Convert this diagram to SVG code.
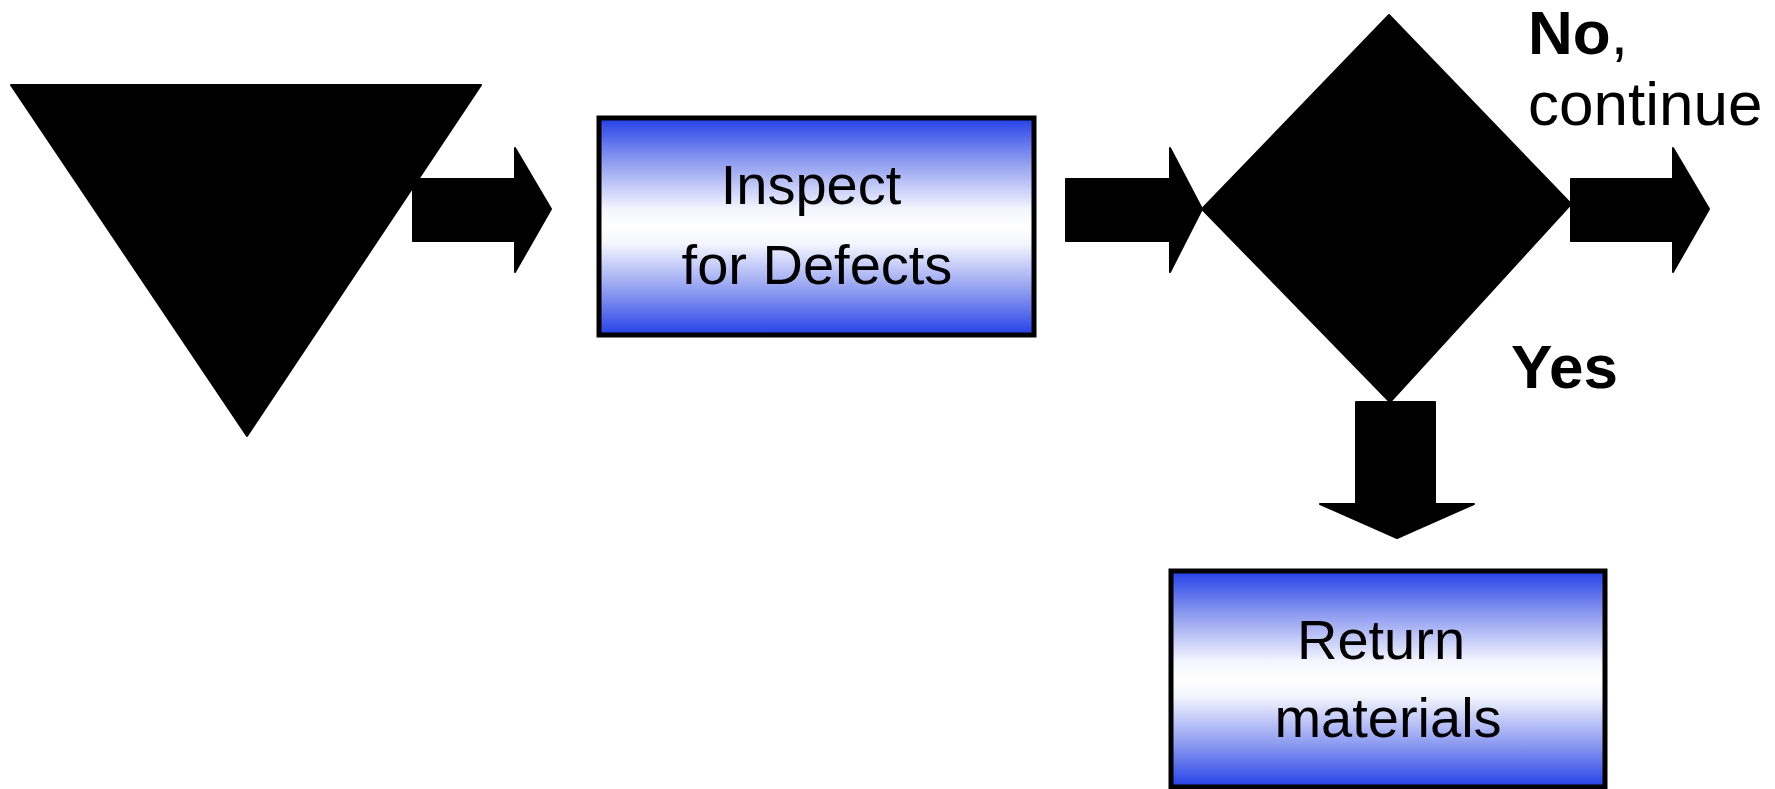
<svg xmlns="http://www.w3.org/2000/svg" width="1775" height="789" viewBox="0 0 1775 789">
<defs>
<linearGradient id="boxfill" x1="0" y1="0" x2="0" y2="1">
<stop offset="0" stop-color="#2440E8"/>
<stop offset="0.2" stop-color="#8D9BF0"/>
<stop offset="0.42" stop-color="#F4F5FE"/>
<stop offset="0.5" stop-color="#FFFFFF"/>
<stop offset="0.58" stop-color="#F4F5FE"/>
<stop offset="0.8" stop-color="#8D9BF0"/>
<stop offset="1" stop-color="#2440E8"/>
</linearGradient>
<style>
.shape{fill:#000;stroke:#000;stroke-width:2;stroke-linejoin:round}
.box{fill:url(#boxfill);stroke:#000;stroke-width:5}
.t{font-family:"Liberation Sans",Arial,sans-serif;fill:#000}
.bt{font-size:56px;text-anchor:middle}
.lab{font-size:62px}
.b{font-weight:bold}
</style>
</defs>
<g id="node-storage">
<polygon class="shape" points="11,85 481,85 247,436"/>
</g>
<g id="connectors">
<polygon class="shape" points="413,179 515,179 515,148 551,209 515,272 515,241 413,241"/>
<polygon class="shape" points="1066,179 1170,179 1170,148 1202,209 1170,272 1170,241 1066,241"/>
<polygon class="shape" points="1571,179 1673,179 1673,148 1709,209 1673,272 1673,241 1571,241"/>
<polygon class="shape" points="1356,402 1435,402 1435,504 1474,504 1397,538 1320,504 1356,504"/>
</g>
<g id="node-inspect">
<rect class="box" x="599" y="118" width="435" height="217"/>
<text class="t bt" x="811" y="204">Inspect</text>
<text class="t bt" x="817" y="284">for Defects</text>
</g>
<g id="node-decision">
<polygon class="shape" points="1389,15 1571,204 1390,402 1202,209"/>
</g>
<g id="node-return">
<rect class="box" x="1171" y="571" width="434" height="216"/>
<text class="t bt" x="1381" y="659">Return</text>
<text class="t bt" x="1388" y="737">materials</text>
</g>
<g id="labels">
<text class="t lab" x="1528" y="54"><tspan class="b">No</tspan>,</text>
<text class="t lab" x="1528" y="125">continue</text>
<text class="t lab b" x="1511" y="388">Yes</text>
</g>
</svg>
